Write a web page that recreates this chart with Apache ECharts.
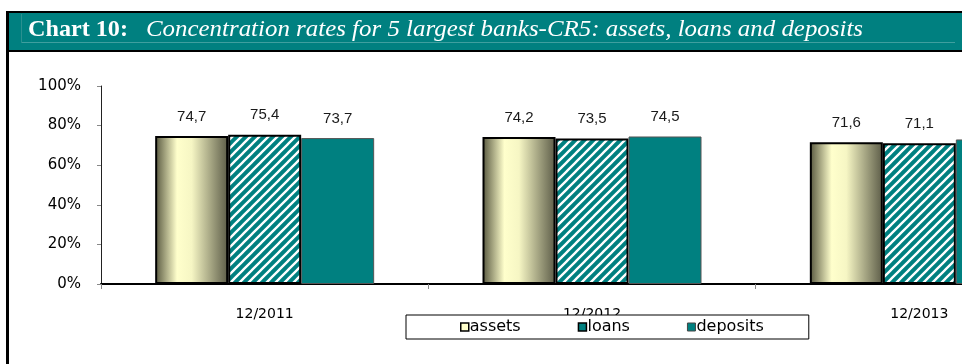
<!DOCTYPE html>
<html>
<head>
<meta charset="utf-8">
<script src="https://cdn.jsdelivr.net/npm/echarts@6/dist/echarts.min.js"></script>
<style>
  html, body { margin: 0; padding: 0; background: #fff; overflow: hidden; width: 962px; height: 364px; }
  /* the plot runs past the right edge of the page, as in the printed panel */
  #chart { width: 1090px; height: 364px; }
</style>
</head>
<body>
<div id="chart"></div>
<script>
// Concentration ratio (CR5) of the five largest banks, % of the sector
const categories = ['12/2011', '12/2012', '12/2013'];
const assets = [74.7, 74.2, 71.6];
const loans = [75.4, 73.5, 71.1];
const deposits = [73.7, 74.5, 73.0];
const yTicks = [0, 20, 40, 60, 80, 100];
const seriesNames = ['assets', 'loans', 'deposits'];
const titleLead = 'Chart 10:';
const titleText = 'Concentration rates for 5 largest banks-CR5: assets, loans and deposits';

const TEAL = '#008080';

// white diagonal hatch on teal for the loans bars
function stripeTile() {
  const s = 9;
  const c = document.createElement('canvas');
  c.width = s; c.height = s;
  const g = c.getContext('2d');
  g.fillStyle = TEAL;
  g.fillRect(0, 0, s, s);
  g.strokeStyle = '#ffffff';
  g.lineWidth = 2.3;
  g.beginPath();
  for (let k = -1; k <= 2; k++) {
    const c0 = k * s;
    g.moveTo(-2, c0 + 2);
    g.lineTo(s + 2, c0 - s - 2);
  }
  g.stroke();
  return c;
}

// stretch title text to its box width
function fitScale(font, text, target) {
  const g = document.createElement('canvas').getContext('2d');
  g.font = font;
  return target / g.measureText(text).width;
}

const leadFont = 'bold 24px "Liberation Serif"';
const bodyFont = 'italic 24px "Liberation Serif"';
const leadScale = fitScale(leadFont, titleLead, 100);
const bodyScale = fitScale(bodyFont, titleText, 717);

const assetsFill = new echarts.graphic.LinearGradient(0, 0, 1, 0, [
  { offset: 0, color: '#56563e' },
  { offset: 0.3, color: '#ffffcc' },
  { offset: 0.5, color: '#f6f6c4' },
  { offset: 1, color: '#5c5c48' }
]);

const labelFmt = p => String(p.value.toFixed(1)).replace('.', ',');
const valueLabel = {
  show: true,
  position: 'top',
  distance: 12,
  formatter: labelFmt,
  fontFamily: '"Liberation Sans", Arial, sans-serif',
  fontSize: 15,
  color: '#1a1a1a'
};

const chart = echarts.init(document.getElementById('chart'), null, { renderer: 'canvas' });

chart.setOption({
  animation: false,
  backgroundColor: '#ffffff',
  graphic: [
    { type: 'rect', shape: { x: 8, y: 12, width: 1080, height: 39 }, style: { fill: TEAL }, z: 10 },
    { type: 'rect', shape: { x: 6, y: 11, width: 1080, height: 2 }, style: { fill: '#000' }, z: 11 },
    { type: 'rect', shape: { x: 6, y: 50, width: 1080, height: 2 }, style: { fill: '#000' }, z: 11 },
    { type: 'rect', shape: { x: 6, y: 11, width: 3, height: 360 }, style: { fill: '#000' }, z: 11 },
    { type: 'rect', shape: { x: 22, y: 42, width: 933, height: 1 }, style: { fill: '#3f9f9f' }, z: 11 },
    { type: 'rect', shape: { x: 21, y: 14, width: 1, height: 29 }, style: { fill: '#2a9090' }, z: 11 },
    {
      type: 'text', x: 28, y: 30, scaleX: leadScale, z: 12,
      style: { text: titleLead, font: leadFont, fill: '#ffffff', verticalAlign: 'middle', align: 'left' }
    },
    {
      type: 'text', x: 146, y: 30, scaleX: bodyScale, z: 12,
      style: { text: titleText, font: bodyFont, fill: '#ffffff', verticalAlign: 'middle', align: 'left' }
    }
  ],
  grid: { left: 101, top: 86, right: 7, height: 198 },
  legend: {
    left: 406, top: 315,
    itemWidth: 8, itemHeight: 8, itemGap: 57,
    padding: [4, 45, 4, 54],
    backgroundColor: '#ffffff',
    borderColor: '#000000',
    borderWidth: 1,
    borderRadius: 0,
    textStyle: { fontFamily: '"DejaVu Sans", sans-serif', fontSize: 16, color: '#000', padding: [0, 0, 0, -4] },
    data: [
      { name: seriesNames[0], icon: 'rect', itemStyle: { color: '#ffffcc', borderColor: '#000', borderWidth: 1.5 } },
      { name: seriesNames[1], icon: 'rect', itemStyle: { color: TEAL, borderColor: '#000', borderWidth: 1.5 } },
      { name: seriesNames[2], icon: 'rect', itemStyle: { color: TEAL, borderColor: '#444', borderWidth: 1 } }
    ],
    z: 20
  },
  xAxis: {
    type: 'category',
    data: categories,
    axisLine: { lineStyle: { color: '#000', width: 2 } },
    axisTick: { show: true, length: 5, lineStyle: { color: '#888', width: 1 } },
    axisLabel: { margin: 23, fontFamily: '"DejaVu Sans", sans-serif', fontSize: 14, color: '#000' },
    splitLine: { show: false }
  },
  yAxis: {
    type: 'value',
    min: yTicks[0],
    max: yTicks[yTicks.length - 1],
    interval: yTicks[1] - yTicks[0],
    axisLine: { show: true, lineStyle: { color: '#222', width: 1 } },
    axisTick: { show: true, length: 4, lineStyle: { color: '#888', width: 1 } },
    axisLabel: { margin: 20, formatter: '{value}%', fontFamily: '"DejaVu Sans", sans-serif', fontSize: 15, color: '#000' },
    splitLine: { show: false }
  },
  series: [
    {
      name: seriesNames[0], type: 'bar', data: assets,
      barWidth: 73, barGap: '0%',
      itemStyle: { color: assetsFill, borderColor: '#000', borderWidth: 2 },
      label: valueLabel
    },
    {
      name: seriesNames[1], type: 'bar', data: loans,
      barWidth: 73, barGap: '0%',
      itemStyle: { color: { image: stripeTile(), repeat: 'repeat' }, borderColor: '#000', borderWidth: 2 },
      label: valueLabel
    },
    {
      name: seriesNames[2], type: 'bar', data: deposits,
      barWidth: 73, barGap: '0%',
      itemStyle: { color: TEAL, borderColor: '#555', borderWidth: 1 },
      label: valueLabel
    }
  ]
});
</script>
</body>
</html>
